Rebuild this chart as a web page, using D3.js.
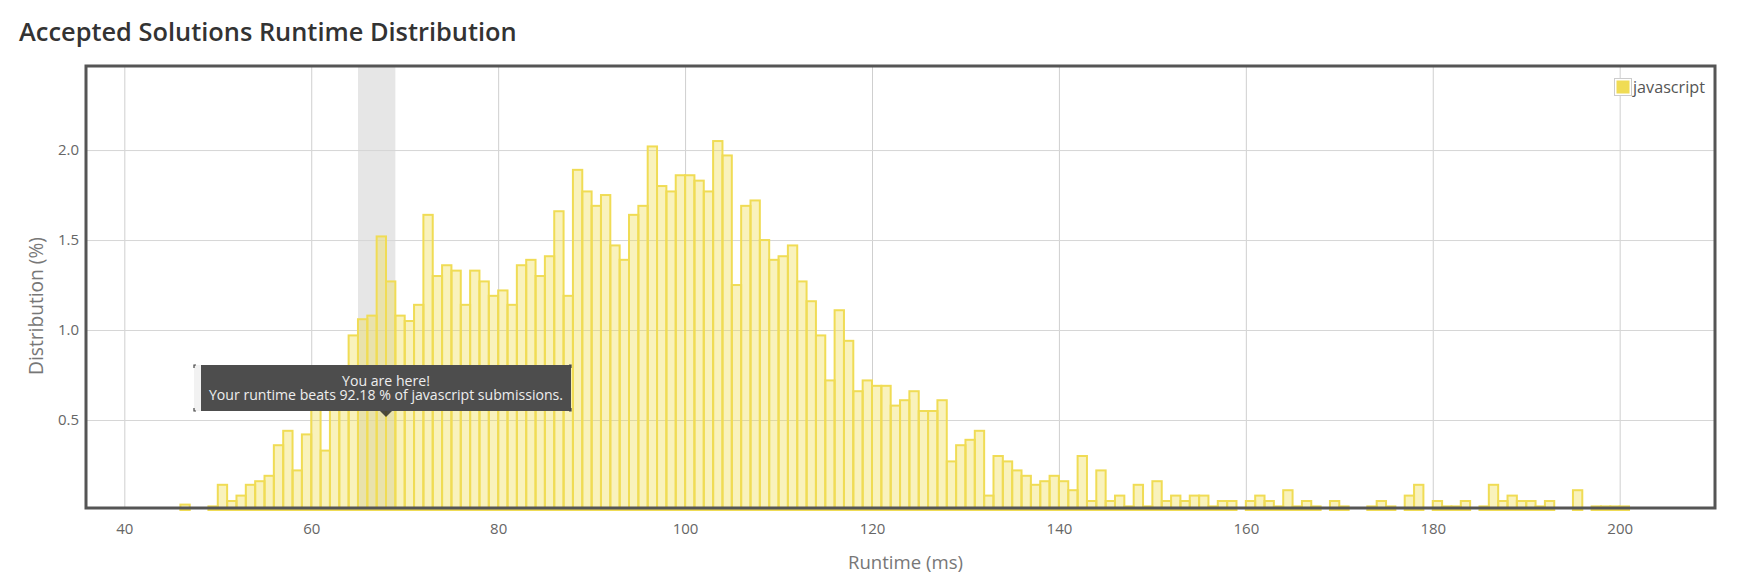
<!DOCTYPE html>
<html>
<head>
<meta charset="utf-8">
<script src="https://cdn.jsdelivr.net/npm/d3@7"></script>
<style>
  html, body { margin: 0; padding: 0; background: #fff; }
  svg { display: block; font-family: "Open Sans", "Noto Sans", sans-serif; }
</style>
</head>
<body>
<div id="chart"></div>
<script>
  // Runtime bins are 1 ms wide, first bin starts at 46 ms.
  const runtimeStart = 46;

  // Distribution (%) per bin.
  const distribution = [
    0.03, 0, 0, 0.02, 0.14, 0.05, 0.08, 0.14, 0.16, 0.19,   // 46-55
    0.36, 0.44, 0.22, 0.42, 0.68, 0.33, 0.67, 0.79, 0.97, 1.06, // 56-65
    1.08, 1.52, 1.27, 1.08, 1.05, 1.14, 1.64, 1.30, 1.36, 1.33, // 66-75
    1.14, 1.33, 1.27, 1.19, 1.22, 1.14, 1.36, 1.39, 1.30, 1.41, // 76-85
    1.66, 1.19, 1.89, 1.77, 1.69, 1.75, 1.47, 1.39, 1.64, 1.69, // 86-95
    2.02, 1.80, 1.77, 1.86, 1.86, 1.83, 1.77, 2.05, 1.97, 1.25, // 96-105
    1.69, 1.72, 1.50, 1.39, 1.41, 1.47, 1.27, 1.16, 0.97, 0.72, // 106-115
    1.11, 0.94, 0.66, 0.72, 0.69, 0.69, 0.58, 0.61, 0.66, 0.55, // 116-125
    0.55, 0.61, 0.27, 0.36, 0.39, 0.44, 0.08, 0.30, 0.27, 0.22, // 126-135
    0.19, 0.14, 0.16, 0.19, 0.16, 0.11, 0.30, 0.05, 0.22, 0.05, // 136-145
    0.08, 0.02, 0.14, 0.02, 0.16, 0.05, 0.08, 0.05, 0.08, 0.08, // 146-155
    0.02, 0.05, 0.05, 0, 0.05, 0.08, 0.05, 0.02, 0.11, 0.02,    // 156-165
    0.05, 0.02, 0, 0.05, 0.02, 0, 0, 0.02, 0.05, 0.02,          // 166-175
    0, 0.08, 0.14, 0, 0.05, 0.02, 0.02, 0.05, 0, 0.02,          // 176-185
    0.14, 0.05, 0.08, 0.05, 0.05, 0.02, 0.05, 0, 0, 0.11,       // 186-195
    0, 0.02, 0.02, 0.02, 0.02                                   // 196-200
  ];

  const xTicks = [40, 60, 80, 100, 120, 140, 160, 180, 200];
  const yTicks = [0.5, 1.0, 1.5, 2.0];
  const xDomain = [35.9, 210.2];
  const yDomain = [0, 2.467];

  // The grey band and the tooltip mark where "your" runtime sits.
  const highlightBand = [65, 69];
  const yourRuntime = 68;
  const tooltipLines = ['You are here!', 'Your runtime beats 92.18 % of javascript submissions.'];

  const title = 'Accepted Solutions Runtime Distribution';
  const xLabel = 'Runtime (ms)';
  const yLabel = 'Distribution (%)';
  const legendLabel = 'javascript';

  const W = 1739, H = 584;
  const plot = { left: 86, top: 66, right: 1715, bottom: 508 };
  const barStroke = '#f0dc55';
  const barFill = 'rgba(240, 220, 78, 0.38)';
  const tipFill = 'rgba(40, 40, 40, 0.82)';

  const bins = distribution
    .map((v, i) => ({ start: runtimeStart + i, value: v }))
    .filter(d => d.value > 0);

  const svg = d3.select('#chart').append('svg')
    .attr('width', W)
    .attr('height', H);

  const x = d3.scaleLinear().domain(xDomain).range([plot.left, plot.right]);
  const y = d3.scaleLinear().domain(yDomain).range([510, plot.top]);

  // Shrink or grow a text's font size so it spans the given width.
  function fit(text, target) {
    const w = text.node().getComputedTextLength();
    const fs = parseFloat(text.attr('font-size'));
    text.attr('font-size', (fs * target / w).toFixed(2));
  }

  // Title
  const titleText = svg.append('text')
    .attr('x', 19)
    .attr('y', 41)
    .attr('font-size', 24)
    .attr('font-weight', 600)
    .attr('fill', '#333')
    .text(title);
  fit(titleText, 498);

  // Highlighted band behind everything.
  svg.append('rect')
    .attr('x', x(highlightBand[0]))
    .attr('y', plot.top)
    .attr('width', x(highlightBand[1]) - x(highlightBand[0]))
    .attr('height', plot.bottom - plot.top)
    .attr('fill', '#e6e6e6');

  // Grid lines
  svg.append('g')
    .attr('class', 'grid')
    .attr('transform', `translate(0,${plot.bottom})`)
    .call(d3.axisBottom(x).tickValues(xTicks).tickSize(-(plot.bottom - plot.top)).tickFormat(''))
    .call(g => g.select('.domain').remove())
    .call(g => g.selectAll('line').attr('stroke', '#cfcfcf'));

  svg.append('g')
    .attr('class', 'grid')
    .attr('transform', `translate(${plot.left},0)`)
    .call(d3.axisLeft(y).tickValues(yTicks).tickSize(-(plot.right - plot.left)).tickFormat(''))
    .call(g => g.select('.domain').remove())
    .call(g => g.selectAll('line').attr('stroke', '#d6d6d6'));

  // Bars
  svg.append('g')
    .selectAll('rect')
    .data(bins)
    .join('rect')
    .attr('x', d => x(d.start))
    .attr('y', d => y(d.value))
    .attr('width', d => x(d.start + 1) - x(d.start))
    .attr('height', d => y(0) - y(d.value))
    .attr('fill', barFill)
    .attr('stroke', barStroke)
    .attr('stroke-width', 2);

  // Frame
  svg.append('rect')
    .attr('x', plot.left)
    .attr('y', plot.top)
    .attr('width', plot.right - plot.left)
    .attr('height', plot.bottom - plot.top)
    .attr('fill', 'none')
    .attr('stroke', '#555')
    .attr('stroke-width', 3);

  // Axes (labels only)
  svg.append('g')
    .attr('transform', `translate(0,${plot.bottom})`)
    .call(d3.axisBottom(x).tickValues(xTicks).tickSize(0).tickPadding(15))
    .call(g => g.select('.domain').remove())
    .call(g => g.selectAll('text')
      .attr('font-family', '"Open Sans", sans-serif')
      .attr('font-size', 15)
      .attr('fill', '#666'));

  svg.append('g')
    .attr('transform', `translate(${plot.left},0)`)
    .call(d3.axisLeft(y).tickValues(yTicks).tickFormat(d3.format('.1f')).tickSize(0).tickPadding(7))
    .call(g => g.select('.domain').remove())
    .call(g => g.selectAll('text')
      .attr('font-family', '"Open Sans", sans-serif')
      .attr('font-size', 15)
      .attr('fill', '#666'));

  const xLabelText = svg.append('text')
    .attr('x', (plot.left + plot.right) / 2 + 5)
    .attr('y', 569)
    .attr('text-anchor', 'middle')
    .attr('font-size', 17)
    .attr('fill', '#777')
    .text(xLabel);
  fit(xLabelText, 115);

  const yLabelText = svg.append('text')
    .attr('transform', 'translate(43,306) rotate(-90)')
    .attr('text-anchor', 'middle')
    .attr('font-size', 17)
    .attr('fill', '#777')
    .text(yLabel);
  fit(yLabelText, 138);

  // Legend
  const legend = svg.append('g').attr('transform', 'translate(1614,78)');
  legend.append('rect')
    .attr('x', 0.5).attr('y', 0.5)
    .attr('width', 17).attr('height', 17)
    .attr('fill', '#fff')
    .attr('stroke', '#ccc');
  legend.append('rect')
    .attr('x', 2.5).attr('y', 2.5)
    .attr('width', 13).attr('height', 13)
    .attr('fill', '#f0dc55');
  const legendText = legend.append('text')
    .attr('x', 19)
    .attr('y', 15)
    .attr('font-size', 15)
    .attr('fill', '#555')
    .text(legendLabel);
  fit(legendText, 72);

  // Tooltip pointing at your runtime
  const ax = x(yourRuntime);
  const box = { left: ax - 192, right: ax + 185, top: 365, bottom: 411 };
  const tip = svg.append('g');
  tip.append('rect')
    .attr('x', box.left).attr('y', box.top)
    .attr('width', box.right - box.left).attr('height', box.bottom - box.top)
    .attr('fill', '#f2f2f2');
  tip.append('rect')
    .attr('x', box.left + 7).attr('y', box.top)
    .attr('width', box.right - box.left - 7).attr('height', box.bottom - box.top)
    .attr('fill', tipFill);
  tip.append('path')
    .attr('d', `M${ax - 6},${box.bottom}L${ax},${box.bottom + 6}L${ax + 6},${box.bottom}Z`)
    .attr('fill', tipFill);
  // little corner brackets
  tip.append('path')
    .attr('d', [
      `M${box.left + 2},${box.top}H${box.left}V${box.top + 3}`,
      `M${box.left},${box.bottom - 3}V${box.bottom}H${box.left + 2}`,
      `M${box.right - 2},${box.top}H${box.right}V${box.top + 3}`,
      `M${box.right},${box.bottom - 3}V${box.bottom}H${box.right - 2}`
    ].join(''))
    .attr('fill', 'none')
    .attr('stroke', '#444')
    .attr('stroke-width', 1.2);

  // Two separate lines of tooltip text, sized so the long line fits the box.
  const tipTexts = tip.selectAll('text.tip')
    .data(tooltipLines)
    .join('text')
    .attr('class', 'tip')
    .attr('x', ax)
    .attr('y', (d, i) => 386 + i * 14)
    .attr('text-anchor', 'middle')
    .attr('font-size', 13)
    .attr('fill', '#eee')
    .text(d => d);
  const longW = tipTexts.filter((d, i) => i === 1).node().getComputedTextLength();
  tipTexts.attr('font-size', (13 * 354 / longW).toFixed(2));
</script>
</body>
</html>
